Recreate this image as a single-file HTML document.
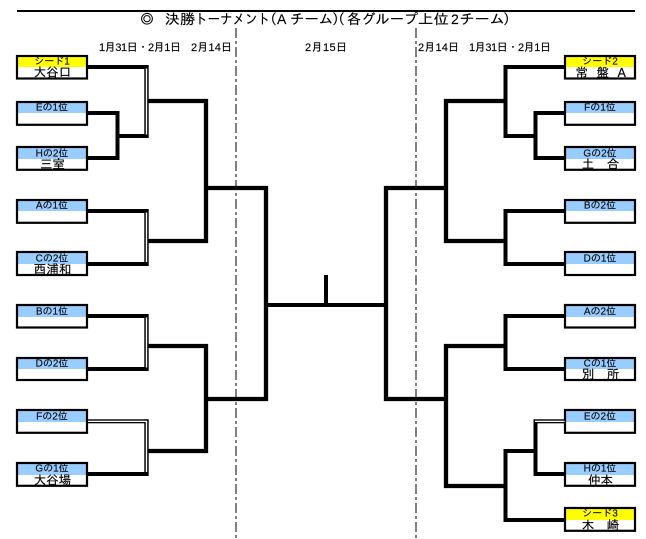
<!DOCTYPE html>
<html lang="ja">
<head>
<meta charset="utf-8">
<title>決勝トーナメント</title>
<style>
html,body{margin:0;padding:0;background:#fff;width:646px;height:539px;overflow:hidden}
svg{display:block}
text{font-family:"Liberation Sans","IPAGothic","Noto Sans CJK JP",sans-serif;fill:#000;stroke:#000;stroke-width:.15}
.l{font-size:10px;text-anchor:middle;fill:#111}
.n{font-size:12.5px;text-anchor:middle}
.d{font-size:11px}
.h{font-size:14px}
.w{fill:none;stroke:#000;stroke-width:4;stroke-linecap:square;stroke-linejoin:miter}
.t{fill:none;stroke:#000;stroke-width:4.3;stroke-linecap:square;stroke-linejoin:miter}
.b{stroke:#000;stroke-width:2.2;fill:none}
</style>
</head>
<body>
<svg width="646" height="539" viewBox="0 0 646 539" xmlns="http://www.w3.org/2000/svg">
<rect width="646" height="539" fill="#fff"/>
<rect x="17" y="10" width="618" height="2" fill="#000"/>
<text class="h" x="140" y="24">◎</text>
<text class="h" x="165" y="24" textLength="30" lengthAdjust="spacingAndGlyphs">決勝</text>
<text class="h" x="195" y="24" textLength="75" lengthAdjust="spacingAndGlyphs">トーナメント</text>
<text class="h" x="263" y="24">（</text>
<text class="h" x="277" y="24">A</text>
<text class="h" x="290" y="24" textLength="43" lengthAdjust="spacingAndGlyphs">チーム</text>
<text class="h" x="332" y="24">）</text>
<text class="h" x="331" y="24">（</text>
<text class="h" x="347" y="24" textLength="71" lengthAdjust="spacingAndGlyphs">各グループ</text>
<text class="h" x="418" y="24" textLength="31" lengthAdjust="spacingAndGlyphs">上位</text>
<text class="h" x="451" y="24">2</text>
<text class="h" x="459.5" y="24" textLength="45" lengthAdjust="spacingAndGlyphs">チーム</text>
<text class="h" x="503" y="24">）</text>

<text class="d" x="99" y="51" textLength="82">1月31日・2月1日</text>
<text class="d" x="191" y="51" textLength="41">2月14日</text>
<text class="d" x="305" y="51" textLength="42">2月15日</text>
<text class="d" x="418" y="51" textLength="41">2月14日</text>
<text class="d" x="469" y="51" textLength="82">1月31日・2月1日</text>

<g stroke="#808080" stroke-width="2" stroke-dasharray="10 3 3 3" fill="none">
<line x1="236" y1="28" x2="236" y2="539"/>
<line x1="416" y1="28" x2="416" y2="539"/>
</g>

<!-- box fills -->
<g fill="#ffff00">
<rect x="17" y="56" width="70" height="11"/>
<rect x="565" y="56" width="70" height="11"/>
<rect x="565" y="508" width="70" height="12"/>
</g>
<g fill="#99ccff">
<rect x="17" y="102" width="70" height="11"/><rect x="17" y="147" width="70" height="12"/>
<rect x="17" y="200" width="70" height="11"/><rect x="17" y="252" width="70" height="12"/>
<rect x="17" y="305" width="70" height="12"/><rect x="17" y="358" width="70" height="11"/>
<rect x="17" y="410" width="70" height="12"/><rect x="17" y="463" width="70" height="12"/>
<rect x="565" y="102" width="70" height="11"/><rect x="565" y="147" width="70" height="12"/>
<rect x="565" y="200" width="70" height="11"/><rect x="565" y="252" width="70" height="12"/>
<rect x="565" y="305" width="70" height="12"/><rect x="565" y="358" width="70" height="11"/>
<rect x="565" y="410" width="70" height="12"/><rect x="565" y="463" width="70" height="12"/>
</g>
<!-- box borders -->
<g>
<rect class="b" x="17" y="56" width="70" height="22.5"/>
<rect class="b" x="17" y="102" width="70" height="22.8"/>
<rect class="b" x="17" y="147" width="70" height="22.8"/>
<rect class="b" x="17" y="200" width="70" height="22.8"/>
<rect class="b" x="17" y="252" width="70" height="23"/>
<rect class="b" x="17" y="305" width="70" height="22.5"/>
<rect class="b" x="17" y="358" width="70" height="22"/>
<rect class="b" x="17" y="410" width="70" height="22.8"/>
<rect class="b" x="17" y="463" width="70" height="22.8"/>
<rect class="b" x="565" y="56" width="70" height="22.5"/>
<rect class="b" x="565" y="102" width="70" height="22.8"/>
<rect class="b" x="565" y="147" width="70" height="22.8"/>
<rect class="b" x="565" y="200" width="70" height="22.8"/>
<rect class="b" x="565" y="252" width="70" height="23"/>
<rect class="b" x="565" y="305" width="70" height="22.5"/>
<rect class="b" x="565" y="358" width="70" height="22"/>
<rect class="b" x="565" y="410" width="70" height="22.8"/>
<rect class="b" x="565" y="463" width="70" height="22.8"/>
<rect class="b" x="565" y="508" width="70" height="22.8"/>
</g>

<!-- left brackets, round 1 -->
<path class="w" d="M89 67H146"/>
<path class="w" d="M89 113H117.5V158H89"/>
<path class="w" d="M118 136H146"/>
<path class="w" d="M89 211H146"/>
<path class="w" d="M89 264H146"/>
<path class="w" d="M89 316H146"/>
<path class="w" d="M89 369H146"/>
<path class="w" d="M89 474H146"/>
<!-- left double verticals -->
<g fill="#000">
<rect x="144.3" y="65" width="4.4" height="73"/>
<rect x="144.3" y="209" width="4.4" height="57"/>
<rect x="144.3" y="314" width="4.4" height="57"/>
<rect x="144.3" y="419.3" width="4.4" height="56.7"/>
<rect x="88" y="419.3" width="60" height="4"/>
</g>
<g fill="#fff">
<rect x="145.8" y="68.5" width="1.4" height="66"/>
<rect x="145.8" y="212.5" width="1.4" height="49.5"/>
<rect x="145.8" y="317.5" width="1.4" height="50"/>
<rect x="145.8" y="422" width="1.4" height="50"/>
<rect x="88" y="420.7" width="59.2" height="1.3"/>
</g>

<!-- left round 2 & 3 -->
<path class="t" d="M150 101H206V241H150"/>
<path class="t" d="M150 346H206V451H150"/>
<path class="t" d="M208 188H266V399H208"/>

<!-- centre -->
<path class="w" d="M268 305H384"/>
<path class="w" d="M326 277V304"/>

<!-- right round 3 & 2 -->
<path class="t" d="M444 188H386V399H444"/>
<path class="t" d="M503 101H446V241H503"/>
<path class="t" d="M503 346H446V486H503"/>

<!-- right brackets -->
<path class="w" d="M563 67H505.5V136H533"/>
<path class="w" d="M563 113H535.5V158H563"/>
<path class="w" d="M563 211H505.5V264H563"/>
<path class="w" d="M563 316H505.5V369H563"/>
<path class="w" d="M505.5 451V520H563"/>
<path class="w" d="M505.5 451H533"/>
<path class="w" d="M535.5 423V474H563"/>
<rect x="533.5" y="419.3" width="31" height="4" fill="#000"/>
<rect x="535" y="420.7" width="29.5" height="1.3" fill="#fff"/>

<!-- labels left -->
<text class="l" x="52" y="64.5">シード1</text>
<text class="l" x="52" y="110.5">Eの1位</text>
<text class="l" x="52" y="156.5">Hの2位</text>
<text class="l" x="52" y="208.5">Aの1位</text>
<text class="l" x="52" y="261.5">Cの2位</text>
<text class="l" x="52" y="314.5">Bの1位</text>
<text class="l" x="52" y="366.5">Dの2位</text>
<text class="l" x="52" y="419.5">Fの2位</text>
<text class="l" x="52" y="471.5">Gの1位</text>
<text class="n" x="52.5" y="76.5">大谷口</text>
<text class="n" x="52.5" y="168.5">三室</text>
<text class="n" x="52.5" y="273.5">西浦和</text>
<text class="n" x="52.5" y="484.5">大谷場</text>

<!-- labels right -->
<text class="l" x="600" y="64.5">シード2</text>
<text class="l" x="600" y="110.5">Fの1位</text>
<text class="l" x="600" y="156.5">Gの2位</text>
<text class="l" x="600" y="208.5">Bの2位</text>
<text class="l" x="600" y="261.5">Dの1位</text>
<text class="l" x="600" y="314.5">Aの2位</text>
<text class="l" x="600" y="366.5">Cの1位</text>
<text class="l" x="600" y="419.5">Eの2位</text>
<text class="l" x="600" y="471.5">Hの1位</text>
<text class="l" x="600" y="516.5">シード3</text>
<text class="n" style="text-anchor:start" x="575.5 596.5 617.5" y="77">常盤A</text>
<text class="n" x="600.5" y="168.5">土　合</text>
<text class="n" x="600.5" y="378.5">別　所</text>
<text class="n" x="600.5" y="484.5">仲本</text>
<text class="n" x="600.5" y="529.5">木　崎</text>
</svg>
</body>
</html>
